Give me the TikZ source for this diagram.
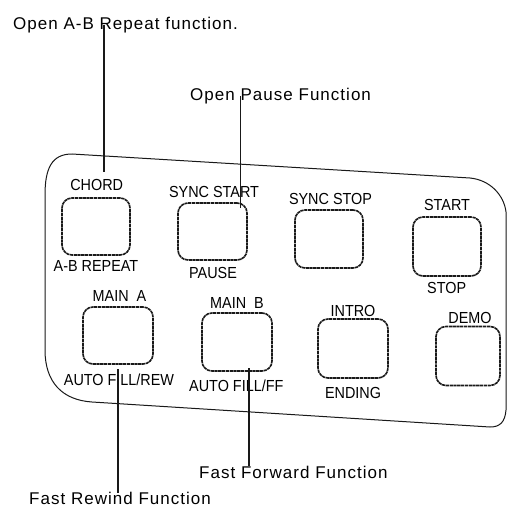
\documentclass[tikz,border=0pt]{standalone}
\usepackage{graphicx}
\usepackage{fontspec}
\setmainfont{Liberation Sans}
\newfontfamily\annfont[LetterSpace=6]{Liberation Sans}
\newcommand\lblsq[1]{\scalebox{0.9}[1]{#1}}
\begin{document}
\begin{tikzpicture}[x=1pt,y=-1pt,
  lab/.style={anchor=base, inner sep=0pt, text=black, font=\fontsize{16}{16}\selectfont},
  ann/.style={anchor=base west, inner sep=0pt, text=black, font=\annfont\fontsize{17}{17}\selectfont},
  btn/.style={draw=black!90, line width=1.6pt, dash pattern=on 3.2pt off 0.6pt, rounded corners=10pt, inner sep=0pt},
  leader/.style={draw=black!90, line width=1.4pt},
  panel/.style={draw=black!90, line width=1pt}]
\useasboundingbox (0,0) rectangle (508,508);
% panel outline
\draw[panel] (45,195) .. controls (45,168) and (52,154) .. (72,154)
  -- (470,178) .. controls (490,180) and (504,195) .. (506,212)
  -- (506,410) .. controls (505,422) and (500,427) .. (490,427)
  -- (92,402) .. controls (62,400) and (45,382) .. (45,350) -- cycle;
% buttons
\node[btn, minimum width=68pt, minimum height=57pt] (b1) at (96,226.5) {};
\node[btn, minimum width=69pt, minimum height=57pt] (b2) at (212.5,231.5) {};
\node[btn, minimum width=68pt, minimum height=58pt] (b3) at (329,239) {};
\node[btn, minimum width=68pt, minimum height=59pt] (b4) at (447,246.5) {};
\node[btn, minimum width=70pt, minimum height=57pt] (b5) at (118,335.5) {};
\node[btn, minimum width=70pt, minimum height=58pt] (b6) at (237,342) {};
\node[btn, minimum width=70pt, minimum height=59pt] (b7) at (353,348.5) {};
\node[btn, minimum width=64pt, minimum height=59pt] (b8) at (468,356) {};
% labels
\node[lab] (chord) at (96.7,190) {\lblsq{CHORD}};
\node[lab] (abrep) at (96,271.7) {\lblsq{A-B REPEAT}};
\node[lab] (sstart) at (214,197) {\lblsq{SYNC START}};
\node[lab] (pause) at (213,278) {\lblsq{PAUSE}};
\node[lab] (sstop) at (330.5,204) {\lblsq{SYNC STOP}};
\node[lab] (start) at (447,210.7) {\lblsq{START}};
\node[lab] (stop) at (446.7,293) {\lblsq{STOP}};
\node[lab] (maina) at (119.5,301.7) {\lblsq{MAIN\ \ A}};
\node[lab] (afrew) at (119,385) {\lblsq{AUTO FILL/REW}};
\node[lab] (mainb) at (237,308) {\lblsq{MAIN\ \ B}};
\node[lab] (afff) at (236.3,391.7) {\lblsq{AUTO FILL/FF}};
\node[lab] (intro) at (353,316) {\lblsq{INTRO}};
\node[lab] (ending) at (353,398) {\lblsq{ENDING}};
\node[lab] (demo) at (470,323) {\lblsq{DEMO}};
% annotations
\node[ann] (annab) at (13,30) {Open A-B Repeat function.};
\node[ann] (annpause) at (190,100) {Open Pause Function};
\node[ann] (annff) at (199,478) {Fast Forward Function};
\node[ann] (annrew) at (29,504) {Fast Rewind Function};
% leader lines
\coordinate (l1a) at (104,25);
\coordinate (l1b) at (104,172);
\coordinate (l2a) at (240.5,96);
\coordinate (l2b) at (240.5,208);
\coordinate (l3a) at (117.8,369);
\coordinate (l3b) at (117.8,493);
\coordinate (l4a) at (248.8,368);
\coordinate (l4b) at (248.8,466);
\draw[leader] (l1a) -- (l1b);
\draw[leader] (l2a) -- (l2b);
\draw[leader] (l3a) -- (l3b);
\draw[leader] (l4a) -- (l4b);
\end{tikzpicture}
\end{document}
